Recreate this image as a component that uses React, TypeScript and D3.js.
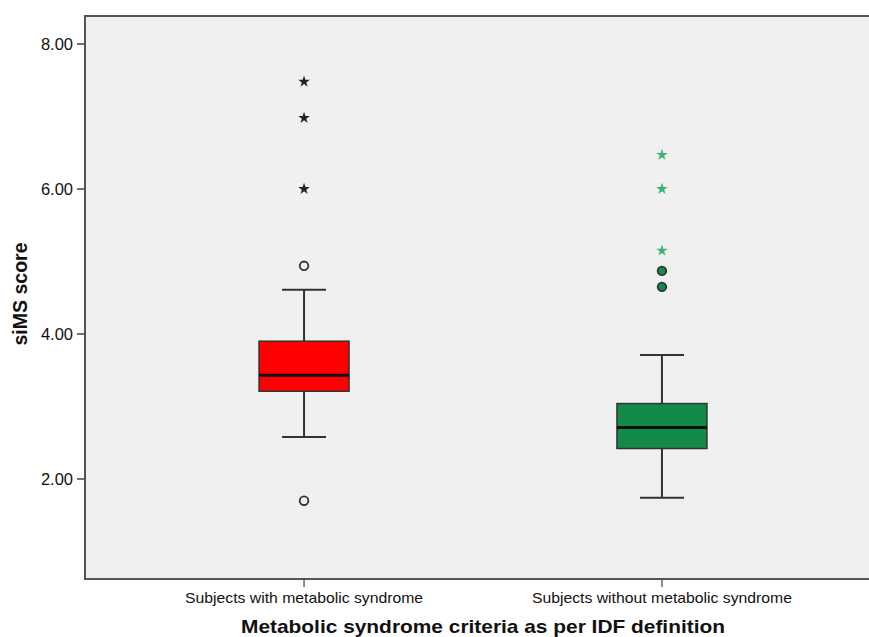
import React from "react";
import * as d3 from "d3";

// groups shown on the x axis
const groups = ["Subjects with metabolic syndrome", "Subjects without metabolic syndrome"];
const groupLabelWidth = [238, 260];
const boxFill = ["#ff0000", "#138a48"];

// five-number summaries
const q1 = [3.21, 2.42];
const medians = [3.43, 2.71];
const q3 = [3.9, 3.04];
const whiskerLow = [2.58, 1.74];
const whiskerHigh = [4.61, 3.71];

// outliers (circles) and extremes (stars)
const outliers = [[4.94, 1.7], [4.87, 4.65]];
const extremes = [[7.48, 6.98, 6.0], [6.47, 6.0, 5.15]];
const outlierFill = ["none", "#138a48"];
const extremeColor = ["#222222", "#3cb371"];

const yTicks = [2, 4, 6, 8];

const W = 869;
const H = 637;
const left = 85;
const right = 881;
const top = 16;
const bottom = 579;

export default function App() {
  const y = d3.scaleLinear().domain([0.62, 8.386]).range([bottom, top]);
  const x = d3.scalePoint<string>().domain(groups).range([left, right]).padding(0.612);

  const boxW = 90;
  const capW = 44;
  const star = d3.symbol().type(d3.symbolStar).size(42)();

  return (
    <svg width={W} height={H} style={{ position: "absolute", left: 0, top: 0 }}
      fontFamily="'Liberation Sans', Arial, sans-serif">
      <rect x={0} y={0} width={W} height={H} fill="#ffffff" />
      <rect x={left} y={top} width={W} height={bottom - top} fill="#f0f0f0" />
      {/* frame */}
      <path d={`M${W + 5},${top}H${left}V${bottom}H${W + 5}`} fill="none" stroke="#555" strokeWidth={2} />

      {/* y axis */}
      {yTicks.map((t) => (
        <g key={t}>
          <line x1={left - 8} x2={left} y1={y(t)} y2={y(t)} stroke="#444" strokeWidth={1.5} />
          <text x={left - 12} y={y(t)} dy="0.36em" textAnchor="end" fontSize={16.5} fill="#111">
            {t.toFixed(2)}
          </text>
        </g>
      ))}
      <text transform={`translate(27,294) rotate(-90)`} textAnchor="middle"
        fontSize={19.5} fontWeight="bold" fill="#111">siMS score</text>

      {/* x axis */}
      {groups.map((g, i) => (
        <g key={g}>
          <line x1={x(g)} x2={x(g)} y1={bottom} y2={bottom + 8} stroke="#444" strokeWidth={1.2} />
          <text x={x(g)} y={bottom + 23.5} textAnchor="middle" fontSize={15} fill="#111"
            textLength={groupLabelWidth[i]} lengthAdjust="spacingAndGlyphs">{g}</text>
        </g>
      ))}
      <text x={(left + right) / 2} y={H - 4.5} textAnchor="middle" fontSize={19} fontWeight="bold" fill="#111"
        textLength={484} lengthAdjust="spacingAndGlyphs">
        Metabolic syndrome criteria as per IDF definition
      </text>

      {/* boxes */}
      {groups.map((g, i) => {
        const cx = x(g) as number;
        return (
          <g key={g}>
            <line x1={cx} x2={cx} y1={y(whiskerHigh[i])} y2={y(q3[i])} stroke="#333" strokeWidth={2} />
            <line x1={cx} x2={cx} y1={y(q1[i])} y2={y(whiskerLow[i])} stroke="#333" strokeWidth={2} />
            <line x1={cx - capW / 2} x2={cx + capW / 2} y1={y(whiskerHigh[i])} y2={y(whiskerHigh[i])} stroke="#333" strokeWidth={2} />
            <line x1={cx - capW / 2} x2={cx + capW / 2} y1={y(whiskerLow[i])} y2={y(whiskerLow[i])} stroke="#333" strokeWidth={2} />
            <rect x={cx - boxW / 2} y={y(q3[i])} width={boxW} height={y(q1[i]) - y(q3[i])}
              fill={boxFill[i]} stroke="#333" strokeWidth={1.5} />
            <line x1={cx - boxW / 2} x2={cx + boxW / 2} y1={y(medians[i])} y2={y(medians[i])} stroke="#111" strokeWidth={3} />
            {outliers[i].map((v, j) => (
              <circle key={j} cx={cx} cy={y(v)} r={4.3} fill={outlierFill[i]} stroke="#333" strokeWidth={1.8} />
            ))}
            {extremes[i].map((v, j) => (
              <path key={j} d={star as string} transform={`translate(${cx},${y(v)})`} fill={extremeColor[i]} />
            ))}
          </g>
        );
      })}
    </svg>
  );
}
